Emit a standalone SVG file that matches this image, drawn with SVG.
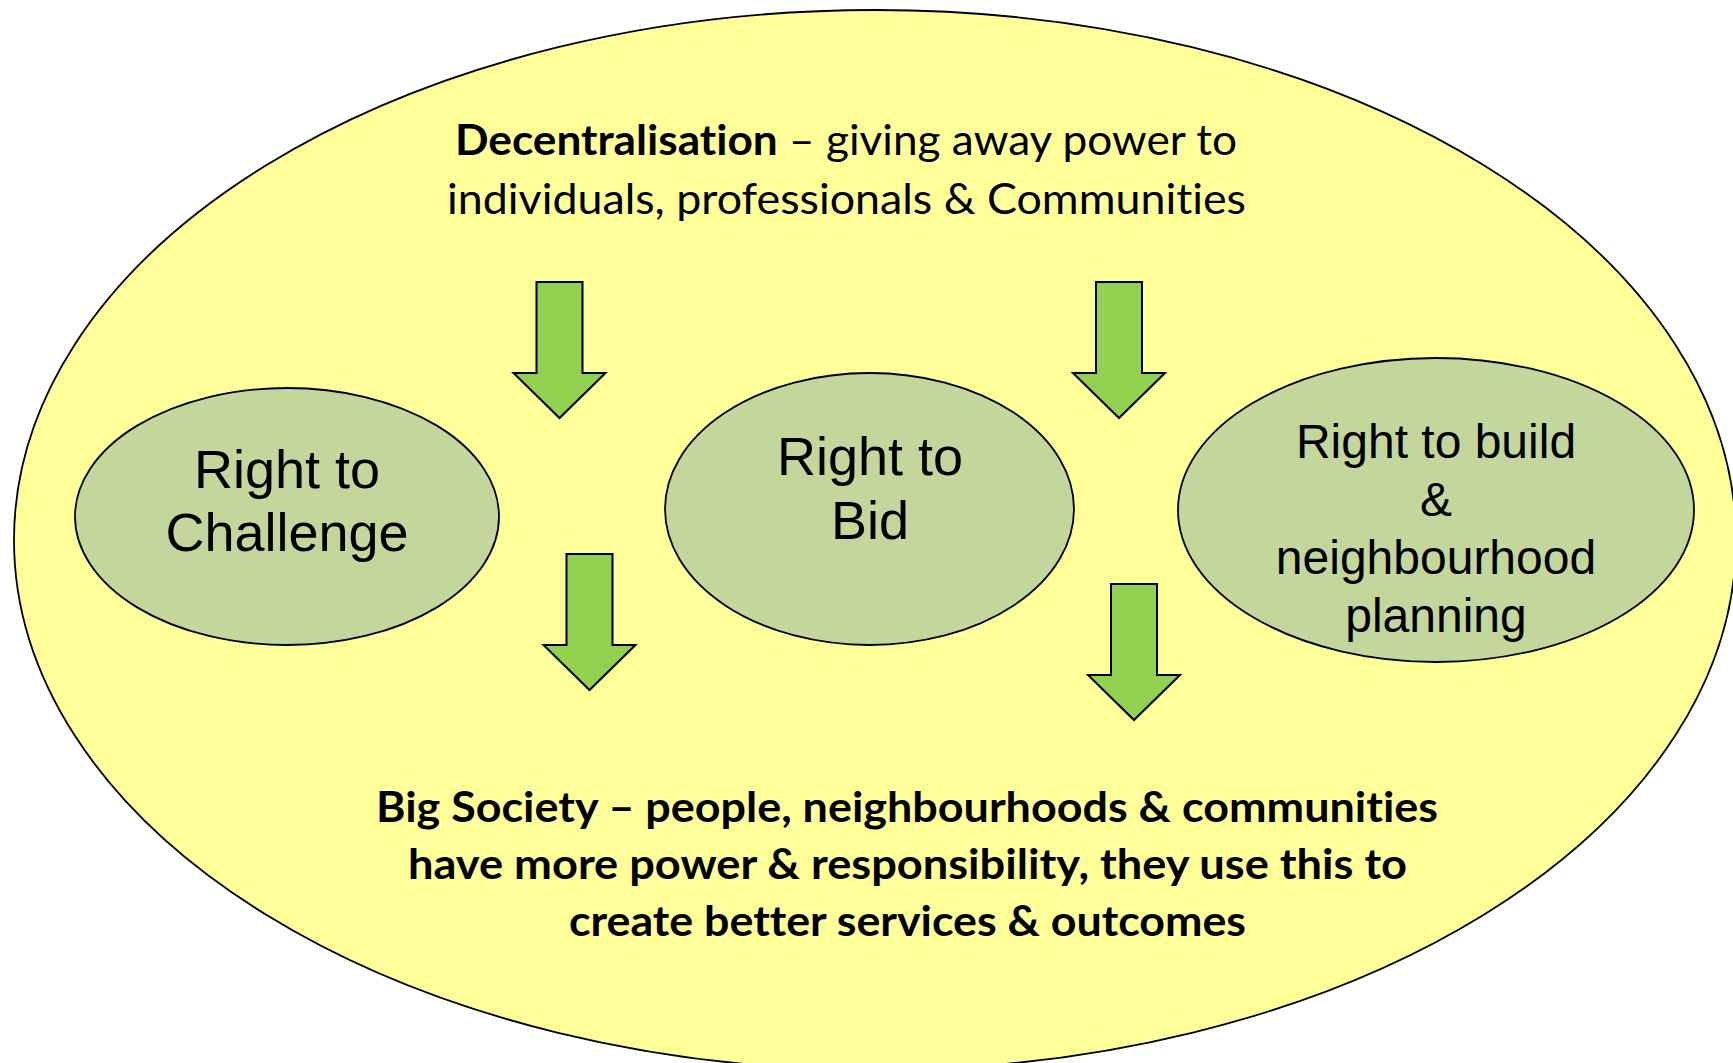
<svg xmlns="http://www.w3.org/2000/svg" xmlns:xlink="http://www.w3.org/1999/xlink" width="1733" height="1063" viewBox="0 0 1733 1063">
  <style>
    .outer { fill: #FFFF99; stroke: #000; stroke-width: 1.8; }
    .node { fill: #C3D69B; stroke: #000; stroke-width: 1.8; }
    .arrow { fill: #92D050; stroke: #000; stroke-width: 2; stroke-linejoin: miter; }
    .label { font-family: "Liberation Sans", Arial, sans-serif; fill: #000; text-anchor: middle; }
    .caption { font-family: Lato, "Open Sans", sans-serif; font-size: 42px; fill: #000; font-variant-ligatures: none; font-feature-settings: "liga" 0, "clig" 0; }
    .b { font-weight: bold; }
  </style>
  <defs>
    <!-- block arrow pointing down, origin at the top-centre of the shaft -->
    <polygon id="downArrow" class="arrow" points="-23,0 23,0 23,91 46,91 0,136 -46,91 -23,91"/>
  </defs>

  <rect width="1733" height="1063" fill="#fff"/>

  <g id="frame">
    <ellipse class="outer" cx="875" cy="540" rx="861" ry="530"/>
  </g>

  <g id="decentralisation">
    <text class="caption" x="455" y="155" textLength="782" lengthAdjust="spacingAndGlyphs"><tspan class="b">Decentralisation</tspan> – giving away power to</text>
    <text class="caption" x="447" y="214" textLength="799" lengthAdjust="spacingAndGlyphs">individuals, professionals &amp; Communities</text>
  </g>

  <g id="right-to-challenge">
    <ellipse class="node" cx="287" cy="516.5" rx="212" ry="128.5"/>
    <text class="label" font-size="54" x="287" y="488">Right to</text>
    <text class="label" font-size="54" x="287" y="551">Challenge</text>
  </g>

  <g id="right-to-bid">
    <ellipse class="node" cx="869.5" cy="509" rx="204.5" ry="136"/>
    <text class="label" font-size="54" x="870" y="475">Right to</text>
    <text class="label" font-size="54" x="870" y="539">Bid</text>
  </g>

  <g id="right-to-build">
    <ellipse class="node" cx="1436" cy="510" rx="258" ry="152"/>
    <text class="label" font-size="48" x="1436" y="458">Right to build</text>
    <text class="label" font-size="48" x="1436" y="516">&amp;</text>
    <text class="label" font-size="48" x="1436" y="574">neighbourhood</text>
    <text class="label" font-size="48" x="1436" y="632">planning</text>
  </g>

  <g id="connectors">
    <use xlink:href="#downArrow" href="#downArrow" transform="translate(559.5,282)"/>
    <use xlink:href="#downArrow" href="#downArrow" transform="translate(1119,282)"/>
    <use xlink:href="#downArrow" href="#downArrow" transform="translate(589.5,554)"/>
    <use xlink:href="#downArrow" href="#downArrow" transform="translate(1134,584)"/>
  </g>

  <g id="big-society">
    <text class="caption b" x="376" y="822" textLength="1062" lengthAdjust="spacingAndGlyphs">Big Society – people, neighbourhoods &amp; communities</text>
    <text class="caption b" x="408" y="879" textLength="999" lengthAdjust="spacingAndGlyphs">have more power &amp; responsibility, they use this to</text>
    <text class="caption b" x="569" y="936" textLength="677" lengthAdjust="spacingAndGlyphs">create better services &amp; outcomes</text>
  </g>
</svg>
